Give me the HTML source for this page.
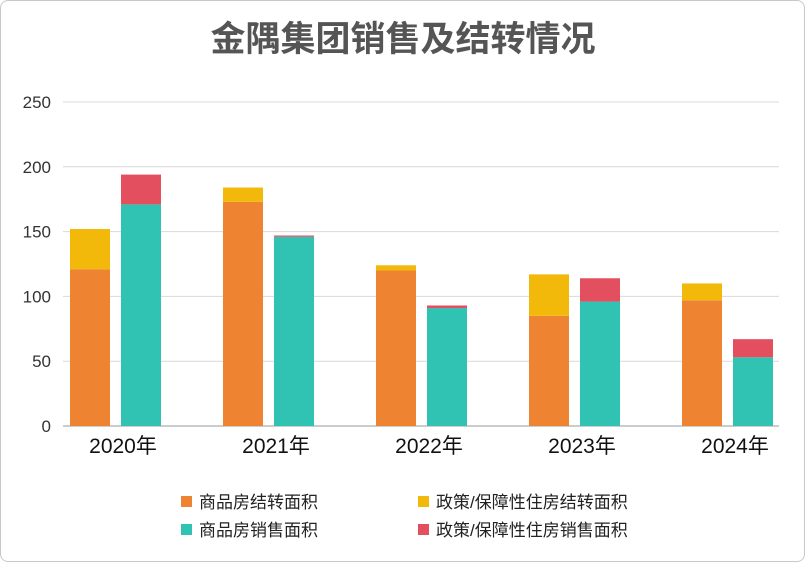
<!DOCTYPE html>
<html><head><meta charset="utf-8"><style>
html,body{margin:0;padding:0;background:#fff;}
#wrap{position:relative;width:803px;height:560px;border:1px solid #c8c8c8;border-radius:8px;overflow:hidden;font-family:"Liberation Sans","Noto Sans CJK SC",sans-serif;}
svg text{font-family:"Liberation Sans","Noto Sans CJK SC",sans-serif;}
</style></head><body>
<div id="wrap">
<svg id="chart" width="805" height="562">
<text x="402" y="50" text-anchor="middle" font-size="35" font-weight="bold" fill="#555">金隅集团销售及结转情况</text>
<g id="grid"></g><g id="bars"></g><g id="labels"></g><g id="legend"></g>
</svg>
</div>
<script>
const categories=["2020年","2021年","2022年","2023年","2024年"];
const carryCommercial=[121,173,120,85,97];
const carryPolicy=[31,11,4,32,13];
const salesCommercial=[171,146,91,96,53];
const salesPolicy=[23,1,2,18,14];
const yTicks=[0,50,100,150,200,250];
const seriesNames=["商品房结转面积","政策/保障性住房结转面积","商品房销售面积","政策/保障性住房销售面积"];
const colors=["#ee8432","#f2b90a","#30c3b4","#e34f5e"];
const NS="http://www.w3.org/2000/svg";
const y0=425,y1=101,yMax=250;
function y(v){return y0-(v/yMax)*(y0-y1);}
function x(i){return 70+i*153;}
function mk(tag,attrs,parent){const e=document.createElementNS(NS,tag);for(const k in attrs)e.setAttribute(k,attrs[k]);parent.appendChild(e);return e;}
const grid=document.getElementById('grid'),bars=document.getElementById('bars'),labels=document.getElementById('labels'),legend=document.getElementById('legend');
yTicks.forEach(t=>{
 const l=mk('line',{x1:62,x2:778,y1:y(t),y2:y(t),stroke:t===0?'#999':'#d9d9d9','stroke-width':1},grid);
 
 
 const tx=mk('text',{x:50,y:y(t)+6,'text-anchor':'end','font-size':17,fill:'#333'},grid);
 tx.textContent=t;
 
 
});
function bar(xx,lo,hi,c){
 const r=mk('rect',{x:xx,y:y(hi),width:40,height:y(lo)-y(hi),fill:c},bars);
 
 
}
categories.forEach((c,i)=>{
 bar(x(i)-1,0,carryCommercial[i],colors[0]);
 bar(x(i)-1,carryCommercial[i],carryCommercial[i]+carryPolicy[i],colors[1]);
 bar(x(i)+50,0,salesCommercial[i],colors[2]);
 bar(x(i)+50,salesCommercial[i],salesCommercial[i]+salesPolicy[i],colors[3]);
 const t=mk('text',{x:x(i)+52,y:452,'text-anchor':'middle','font-size':21,fill:'#111'},labels);
 t.textContent=c;
 
 
});
const lp=[[180,501],[417,501],[180,529],[417,529]];
seriesNames.forEach((n,i)=>{
 const g=mk('g',{},legend);
 
 
 mk('rect',{x:lp[i][0],y:lp[i][1]-6,width:11,height:11,fill:colors[i]},g);
 const t=mk('text',{x:lp[i][0]+18,y:lp[i][1]+6,'font-size':17,fill:'#222'},g);
 t.textContent=n;
});
</script>
</body></html>
